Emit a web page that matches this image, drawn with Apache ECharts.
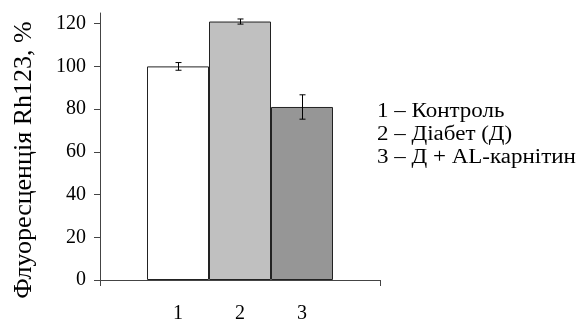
<!DOCTYPE html>
<html>
<head>
<meta charset="utf-8">
<script src="https://cdn.jsdelivr.net/npm/echarts@6/dist/echarts.min.js"></script>
<style>
html,body{margin:0;padding:0;background:#fff;}
#chart{width:582px;height:322px;}
</style>
</head>
<body>
<div id="chart"></div>
<script>
var categories = ['1', '2', '3'];
var values = [100, 121, 81];
var errors = [1.8, 1.2, 5.7];
var barColors = ['#ffffff', '#c0c0c0', '#969696'];
var legendLines = ['1 – Контроль', '2 – Діабет (Д)', '3 – Д + AL-карнітин'];
var yTicks = [0, 20, 40, 60, 80, 100, 120];
var yName = 'Флуоресценція Rh123, %';

var FONT = '"Liberation Serif", "Times New Roman", serif';
var chart = echarts.init(document.getElementById('chart'));

var errData = categories.map(function (c, i) { return [i, values[i] - errors[i], values[i] + errors[i]]; });

var graphics = legendLines.map(function (t, i) {
  return {
    type: 'text', x: 377, y: 112 + i * 23, scaleX: 1.15,
    style: { text: t, font: '20px ' + FONT, fill: '#000', textAlign: 'left', textVerticalAlign: 'middle' }
  };
});
graphics.push({
  type: 'text', x: 24, y: 160, rotation: Math.PI / 2,
  style: { text: yName, font: '26px ' + FONT, fill: '#000', textAlign: 'center', textVerticalAlign: 'middle' }
});

var option = {
  animation: false,
  grid: [
    { left: 100, top: 13, width: 280, height: 267, containLabel: false, outerBoundsMode: 'none' },
    { left: 147, top: 13, width: 186, height: 267, containLabel: false, outerBoundsMode: 'none' }
  ],
  xAxis: [
    {
      type: 'category', gridIndex: 0, data: [''], boundaryGap: true,
      axisLine: { lineStyle: { color: '#444', width: 1 } },
      axisTick: { show: true, length: 6, lineStyle: { color: '#444' } },
      axisLabel: { show: false }
    },
    {
      type: 'category', gridIndex: 1, data: categories, boundaryGap: true,
      axisLine: { show: false }, axisTick: { show: false },
      axisLabel: { margin: 24, fontFamily: FONT, fontSize: 20, color: '#000' }
    }
  ],
  yAxis: [
    {
      type: 'value', gridIndex: 0, min: 0, max: 125,
      splitLine: { show: false },
      axisLine: { show: true, lineStyle: { color: '#444', width: 1 } },
      axisTick: { show: true, length: 6, customValues: yTicks, lineStyle: { color: '#444' } },
      axisLabel: { customValues: yTicks, margin: 14, fontFamily: FONT, fontSize: 20, color: '#000' }
    },
    {
      type: 'value', gridIndex: 1, min: 0, max: 125, show: false
    }
  ],
  series: [
    {
      type: 'bar', xAxisIndex: 1, yAxisIndex: 1, barCategoryGap: 0,
      data: values.map(function (v, i) {
        return { value: v, itemStyle: { color: barColors[i], borderColor: '#222', borderWidth: 1 } };
      })
    },
    {
      type: 'custom', xAxisIndex: 1, yAxisIndex: 1,
      data: errData,
      renderItem: function (params, api) {
        var lo = api.coord([api.value(0), api.value(1)]);
        var hi = api.coord([api.value(0), api.value(2)]);
        var x = Math.round(lo[0]) + 0.5;
        var w = 3;
        var st = { stroke: '#000', lineWidth: 1 };
        return {
          type: 'group',
          children: [
            { type: 'line', shape: { x1: x, y1: hi[1], x2: x, y2: lo[1] }, style: st },
            { type: 'line', shape: { x1: x - w, y1: hi[1], x2: x + w, y2: hi[1] }, style: st },
            { type: 'line', shape: { x1: x - w, y1: lo[1], x2: x + w, y2: lo[1] }, style: st }
          ]
        };
      },
      z: 10
    }
  ],
  graphic: graphics
};
chart.setOption(option);
</script>
</body>
</html>
